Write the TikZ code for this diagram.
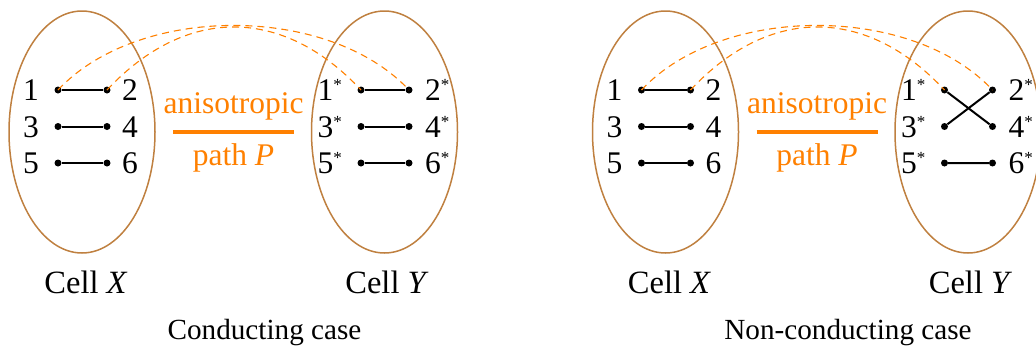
\documentclass[tikz,border=0pt]{standalone}
\usepackage{fontspec}
\setmainfont{Liberation Serif}
\usetikzlibrary{shapes.geometric}
\definecolor{cellc}{RGB}{191,128,64}
\definecolor{orng}{RGB}{255,128,0}
\newcommand{\stmark}{\raisebox{10pt}{\fontsize{17}{17}\selectfont *}}
\tikzset{
  x=1pt,y=1pt,
  cellbox/.style={draw=cellc,line width=1.5pt,ellipse,minimum width=146pt,minimum height=242pt,inner sep=0pt},
  dotnode/.style={circle,fill=black,inner sep=0pt,minimum size=7pt},
  lbl/.style={font=\fontsize{31.5}{36}\selectfont,inner sep=0pt},
  lL/.style={lbl,anchor=base east},
  lR/.style={lbl,anchor=base west},
  wire/.style={line width=2pt},
  pathline/.style={draw=orng,line width=1.1pt,dash pattern=on 7pt off 5pt},
  otxt/.style={lbl,text=orng,anchor=base},
  celltxt/.style={font=\fontsize{32.5}{36}\selectfont,inner sep=0pt,anchor=base},
  captxt/.style={font=\fontsize{29.2}{34}\selectfont,inner sep=0pt,anchor=base},
}
\begin{document}
\begin{tikzpicture}
\useasboundingbox (0,0) rectangle (1036,-354);
% ---------- left panel ----------
\node[cellbox] (aX) at (82,-132) {};
\node[cellbox] (aY) at (384.5,-132) {};
\node[dotnode] (a1) at (58,-90) {};
\node[dotnode] (a2) at (107,-90) {};
\node[dotnode] (a3) at (58,-126.5) {};
\node[dotnode] (a4) at (107,-126.5) {};
\node[dotnode] (a5) at (58,-163) {};
\node[dotnode] (a6) at (107,-163) {};
\node[dotnode] (a1s) at (361,-90) {};
\node[dotnode] (a2s) at (409,-90) {};
\node[dotnode] (a3s) at (361,-126.5) {};
\node[dotnode] (a4s) at (409,-126.5) {};
\node[dotnode] (a5s) at (361,-163) {};
\node[dotnode] (a6s) at (409,-163) {};
\node[lL] (la1) at (39,-100.5) {1};
\node[lR] (la2) at (122,-100.5) {2};
\node[lL] (la3) at (39,-137) {3};
\node[lR] (la4) at (122,-137) {4};
\node[lL] (la5) at (39,-173.5) {5};
\node[lR] (la6) at (122,-173.5) {6};
\node[lL] (la1s) at (342,-100.5) {1\stmark};
\node[lR] (la2s) at (425,-100.5) {2\stmark};
\node[lL] (la3s) at (342,-137) {3\stmark};
\node[lR] (la4s) at (425,-137) {4\stmark};
\node[lL] (la5s) at (342,-173.5) {5\stmark};
\node[lR] (la6s) at (425,-173.5) {6\stmark};
\draw[wire] (a1) -- (a2) (a3) -- (a4) (a5) -- (a6);
\draw[wire] (a1s) -- (a2s) (a3s) -- (a4s) (a5s) -- (a6s);
\draw[pathline] (a1.center) to[out=47,in=133,looseness=0.86] (a2s.center);
\draw[pathline] (a2.center) to[out=47,in=133,looseness=1.16] (a1s.center);
\node[otxt] (aan) at (233.5,-113) {anisotropic};
\coordinate (ab1) at (173,-132);
\coordinate (ab2) at (294,-132);
\draw[orng,line width=4.3pt] (ab1) -- (ab2);
\node[otxt] (apa) at (233.5,-165) {path \textit{P}};
\node[celltxt] (acx) at (86,-293) {Cell \textit{X}};
\node[celltxt] (acy) at (387,-293) {Cell \textit{Y}};
\node[captxt] (acase) at (264.5,-339) {Conducting case};
% ---------- right panel ----------
\begin{scope}[xshift=583.5pt]
\node[cellbox] (bX) at (82,-132) {};
\node[cellbox] (bY) at (384.5,-132) {};
\node[dotnode] (b1) at (58,-90) {};
\node[dotnode] (b2) at (107,-90) {};
\node[dotnode] (b3) at (58,-126.5) {};
\node[dotnode] (b4) at (107,-126.5) {};
\node[dotnode] (b5) at (58,-163) {};
\node[dotnode] (b6) at (107,-163) {};
\node[dotnode] (b1s) at (361,-90) {};
\node[dotnode] (b2s) at (409,-90) {};
\node[dotnode] (b3s) at (361,-126.5) {};
\node[dotnode] (b4s) at (409,-126.5) {};
\node[dotnode] (b5s) at (361,-163) {};
\node[dotnode] (b6s) at (409,-163) {};
\node[lL] (lb1) at (39,-100.5) {1};
\node[lR] (lb2) at (122,-100.5) {2};
\node[lL] (lb3) at (39,-137) {3};
\node[lR] (lb4) at (122,-137) {4};
\node[lL] (lb5) at (39,-173.5) {5};
\node[lR] (lb6) at (122,-173.5) {6};
\node[lL] (lb1s) at (342,-100.5) {1\stmark};
\node[lR] (lb2s) at (425,-100.5) {2\stmark};
\node[lL] (lb3s) at (342,-137) {3\stmark};
\node[lR] (lb4s) at (425,-137) {4\stmark};
\node[lL] (lb5s) at (342,-173.5) {5\stmark};
\node[lR] (lb6s) at (425,-173.5) {6\stmark};
\draw[wire] (b1) -- (b2) (b3) -- (b4) (b5) -- (b6);
\draw[wire] (b1s) -- (b4s) (b3s) -- (b2s) (b5s) -- (b6s);
\draw[pathline] (b1.center) to[out=47,in=133,looseness=0.86] (b2s.center);
\draw[pathline] (b2.center) to[out=47,in=133,looseness=1.16] (b1s.center);
\node[otxt] (ban) at (233.5,-113) {anisotropic};
\coordinate (bb1) at (173,-132);
\coordinate (bb2) at (294,-132);
\draw[orng,line width=4.3pt] (bb1) -- (bb2);
\node[otxt] (bpa) at (233.5,-165) {path \textit{P}};
\node[celltxt] (bcx) at (86,-293) {Cell \textit{X}};
\node[celltxt] (bcy) at (387,-293) {Cell \textit{Y}};
\node[captxt] (bcase) at (264.5,-339) {Non-conducting case};
\end{scope}
\end{tikzpicture}
\end{document}
